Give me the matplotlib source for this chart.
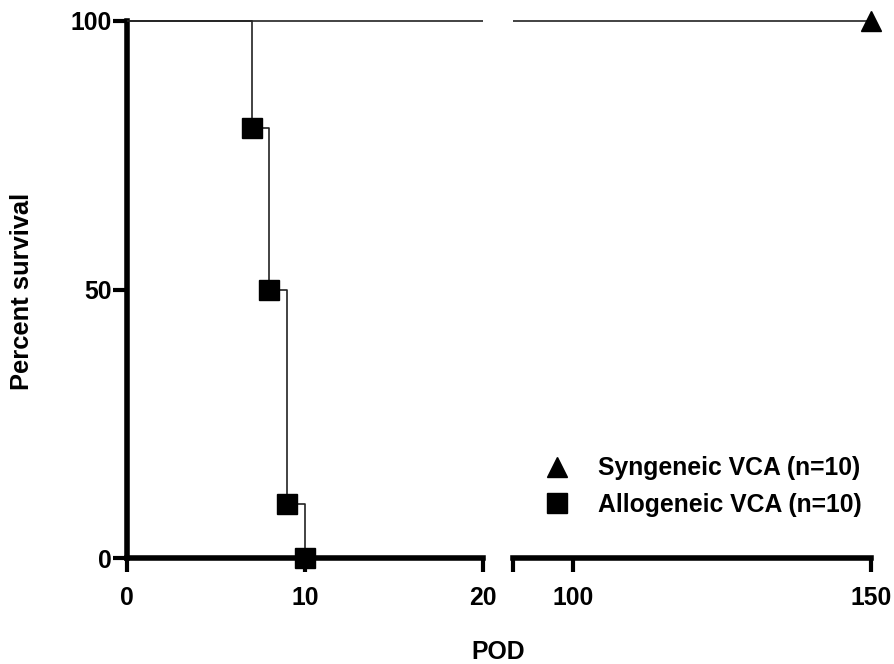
import matplotlib
matplotlib.use("Agg")
import matplotlib.pyplot as plt
from matplotlib.lines import Line2D

plt.rcParams['font.family'] = ['Liberation Sans', 'DejaVu Sans']
plt.rcParams['font.weight'] = 'bold'

# Kaplan-Meier data (days post-op, percent survival)
synDays = [0, 150]
synSurv = [100, 100]
alloDays = [0, 7, 8, 9, 10]
alloSurv = [100, 80, 50, 10, 0]

leftTicks = [0, 10, 20]
rightTicks = [90, 100, 150]
rightTickLabels = ['', '100', '150']
yTicks = [0, 50, 100]

W, H = 895, 664
fig = plt.figure(figsize=(W / 100, H / 100), dpi=100)

# pixel geometry of the two axis segments
y0, y100 = 558, 21
pxPerPct = (y0 - y100) / 100
axBottom = 1 - y0 / H
axHeight = (y0 - y100 + pxPerPct * 2) / H

axL = fig.add_axes([127 / W, axBottom, (483 - 127) / W, axHeight])
axR = fig.add_axes([513 / W, axBottom, (871 - 513) / W, axHeight])

fs = 17.8
for ax in (axL, axR):
    ax.set_ylim(0, 102)
    for s in ('top', 'right'):
        ax.spines[s].set_visible(False)
    ax.spines['bottom'].set_linewidth(4)
    ax.tick_params(axis='x', direction='out', length=10, width=3, pad=10, labelsize=fs)
    ax.tick_params(axis='y', direction='out', length=10, width=3, pad=1, labelsize=fs)
    ax.set_facecolor('none')

axL.set_xlim(0, 20)
axL.set_xticks(leftTicks)
axL.spines['left'].set_linewidth(4)
axL.spines['left'].set_bounds(0, 100)
axL.set_yticks(yTicks)

axR.set_xlim(90, 150)
axR.set_xticks(rightTicks)
axR.set_xticklabels(rightTickLabels)
axR.spines['left'].set_visible(False)
axR.set_yticks([])

for ax in (axL, axR):
    ax.plot(synDays, synSurv, color='#222222', lw=1.2, drawstyle='steps-post', zorder=3)
    ax.plot(alloDays, alloSurv, color='#222222', lw=1.2, drawstyle='steps-post', zorder=3)

# event markers
axL.plot(alloDays[1:], alloSurv[1:], ls='none', marker='s', ms=14.5, color='black', clip_on=False, zorder=5)
axR.plot(synDays[-1:], synSurv[-1:], ls='none', marker='^', ms=15, color='black', clip_on=False, zorder=5)

handles = [Line2D([], [], ls='none', marker='^', ms=15, color='black'),
           Line2D([], [], ls='none', marker='s', ms=14.5, color='black')]
fig.legend(handles, ['Syngeneic VCA (n=10)', 'Allogeneic VCA (n=10)'],
           loc='center left', bbox_to_anchor=(545 / W, 1 - 486.5 / H), frameon=False,
           fontsize=fs, handlelength=1.0, handletextpad=1.15, labelspacing=0.5,
           borderpad=0, borderaxespad=0)

fig.text(22 / W, 1 - 291 / H, 'Percent survival', rotation=90, ha='center', va='center', fontsize=18.4)
fig.text(498 / W, 1 - 652 / H, 'POD', ha='center', va='center', fontsize=fs)

fig.savefig('out.png', dpi=100)
